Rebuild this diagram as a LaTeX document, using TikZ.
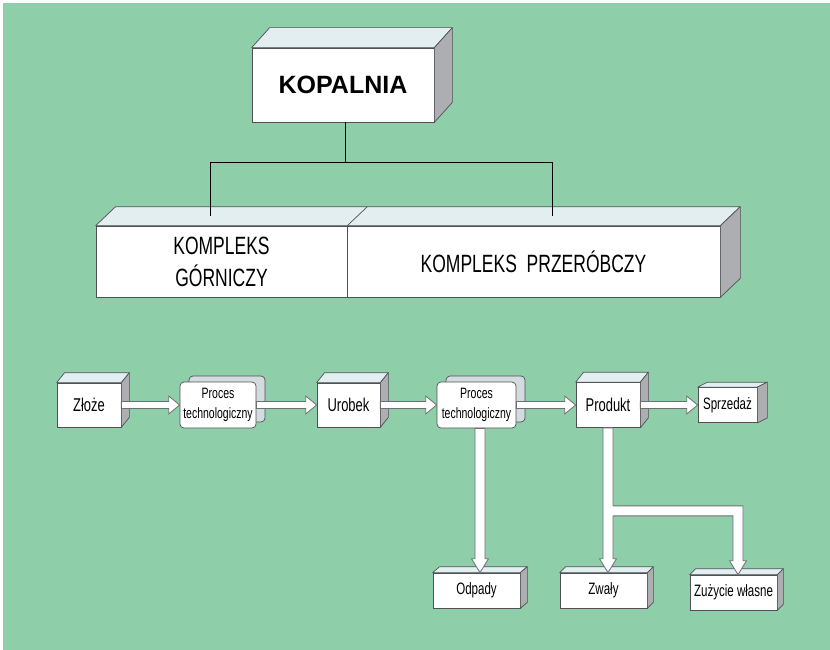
\documentclass[tikz,border=0pt]{standalone}
\usepackage{fontspec}
\setmainfont{Liberation Sans}
\newfontfamily\cond[FakeStretch=0.7]{Liberation Sans}
\usetikzlibrary{calc}
\definecolor{bggreen}{RGB}{142,206,169}
\definecolor{topc}{RGB}{226,238,240}
\definecolor{sidec}{RGB}{172,174,178}
\definecolor{edgec}{RGB}{80,80,85}
\definecolor{arrc}{RGB}{110,110,115}
\tikzset{
  box/.style={draw=edgec, line width=0.7pt, fill=white, inner sep=0pt, align=center},
  procbox/.style={box, rounded corners=4pt},
  procback/.style={draw=edgec, line width=0.7pt, fill=topc!70!sidec, rounded corners=4pt},
  topface/.style={draw=edgec, line width=0.7pt, fill=topc, line join=round},
  sideface/.style={draw=edgec, line width=0.7pt, fill=sidec, line join=round},
  arrowst/.style={draw=arrc, line width=0.8pt, fill=white, line join=miter},
  conn/.style={draw=black, line width=1pt},
  biglabel/.style={font=\cond\fontsize{25}{32}\selectfont},
  rowlabel/.style={font=\cond\fontsize{18.5}{20}\selectfont},
  smalllabel/.style={font=\cond\fontsize{16.5}{18}\selectfont},
  proclabel/.style={font=\cond\fontsize{15}{19.5}\selectfont}
}
\newcommand{\cubefaces}[3]{%
  \path[topface] (#1.north west) -- ++(#2,#3) -- ($(#1.north east)+(#2,#3)$) -- (#1.north east) -- cycle;
  \path[sideface] (#1.north east) -- ++(#2,#3) -- ($(#1.south east)+(#2,#3)$) -- (#1.south east) -- cycle;
}
\newcommand{\harrow}[2]{%
  \path[arrowst] ($(#1.east)+(0,-3.5)$) -- ($(#2.west)+(-11,-3.5)$) -- ($(#2.west)+(-11,-9)$) -- (#2.west)
    -- ($(#2.west)+(-11,9)$) -- ($(#2.west)+(-11,3.5)$) -- ($(#1.east)+(0,3.5)$) -- cycle;
}
\newcommand{\varrow}[2]{%
  \path[arrowst] ($(#1)+(-5,0)$) -- ($(#1 |- #2.north)+(-5,-14)$) -- ($(#1 |- #2.north)+(-8.5,-14)$) -- (#1 |- #2.north)
    -- ($(#1 |- #2.north)+(8.5,-14)$) -- ($(#1 |- #2.north)+(5,-14)$) -- ($(#1)+(5,0)$) -- cycle;
}
\begin{document}
\begin{tikzpicture}[x=1pt,y=-1pt]
\useasboundingbox (0,0) rectangle (830,650);
\fill[white] (0,0) rectangle (830,650);
\fill[bggreen] (3,3) rectangle (830,650);

% KOPALNIA
\node[box, minimum width=182pt, minimum height=74pt, font=\bfseries\fontsize{25}{30}\selectfont] (kop) at (343,85) {KOPALNIA};
\cubefaces{kop}{18}{-20}

% complex bar
\node[box, minimum width=251pt, minimum height=71pt, biglabel] (gor) at (221.5,261.5) {KOMPLEKS\\GÓRNICZY};
\node[box, minimum width=373pt, minimum height=71pt, biglabel] (prz) at (533.5,261.5) {KOMPLEKS\ \ PRZERÓBCZY};
\path[topface] (gor.north west) -- ++(20,-19) -- ($(prz.north east)+(20,-19)$) -- (prz.north east) -- cycle;
\draw[edgec, line width=0.7pt] (gor.north east) -- ++(20,-19);
\path[sideface] (prz.north east) -- ++(20,-19) -- ($(prz.south east)+(20,-19)$) -- (prz.south east) -- cycle;

% connectors top
\coordinate (bus) at (345,163);
\coordinate (busl) at (210,163);
\coordinate (busr) at (552,163);
\coordinate (tg) at (210,216);
\coordinate (tp) at (552,216);
\draw[conn] (kop.south -| bus) -- (bus);
\draw[conn] (tg) -- (busl) -- (busr) -- (tp);

% process row
\node[box, minimum width=64pt, minimum height=44pt, rowlabel] (zl) at (89,405) {Złoże};
\cubefaces{zl}{8}{-10}

\draw[procback] (189,376) rectangle (265,422);
\node[procbox, minimum width=76pt, minimum height=46pt, proclabel] (p1) at (218,405) {Proces\\technologiczny};

\node[box, minimum width=63pt, minimum height=44pt, rowlabel] (ur) at (348.5,405) {Urobek};
\cubefaces{ur}{8}{-10}

\draw[procback] (446,376) rectangle (525,422);
\node[procbox, minimum width=79pt, minimum height=46pt, proclabel] (p2) at (476.5,405) {Proces\\technologiczny};

\node[box, minimum width=64pt, minimum height=45pt, rowlabel] (pr) at (608,405) {Produkt};
\cubefaces{pr}{8}{-10}

\node[box, minimum width=59pt, minimum height=35pt, smalllabel] (sp) at (727.5,405) {Sprzedaż};
\cubefaces{sp}{10}{-5}

% bottom row
\node[box, minimum width=87pt, minimum height=35pt, smalllabel] (od) at (476.5,590.5) {Odpady};
\cubefaces{od}{7}{-6}
\node[box, minimum width=87pt, minimum height=35pt, smalllabel] (zw) at (603.5,590.5) {Zwały};
\cubefaces{zw}{6}{-6}
\node[box, minimum width=87pt, minimum height=35pt, smalllabel] (zu) at (733.5,592.5) {Zużycie własne};
\cubefaces{zu}{6}{-6}

% horizontal arrows
\harrow{zl}{p1}
\harrow{p1}{ur}
\harrow{ur}{p2}
\harrow{p2}{pr}
\harrow{pr}{sp}

% vertical arrows
\coordinate (p2out) at ($(p2.south)+(3.5,0)$);
\varrow{p2out}{od}
\coordinate (prout) at (pr.south);
\varrow{prout}{zw}

% branch to Zużycie własne
\coordinate (brs) at ($(pr.south)+(0,83)$);
\coordinate (brc) at ($(zu.north)+(4.5,0)$);
\fill[white] ($(brs)+(4,-5)$) -- ($(brs -| brc)+(5,-5)$) -- ($(brc)+(5,-14)$) -- ($(brc)+(8.5,-14)$) -- (brc)
  -- ($(brc)+(-8.5,-14)$) -- ($(brc)+(-5,-14)$) -- ($(brs -| brc)+(-5,5)$) -- ($(brs)+(4,5)$) -- cycle;
\path[arrowst, fill=none] ($(brs)+(5,5)$) -- ($(brs -| brc)+(-5,5)$) -- ($(brc)+(-5,-14)$) -- ($(brc)+(-8.5,-14)$) -- (brc)
  -- ($(brc)+(8.5,-14)$) -- ($(brc)+(5,-14)$) -- ($(brs -| brc)+(5,-5)$) -- ($(brs)+(5,-5)$);
\end{tikzpicture}
\end{document}
